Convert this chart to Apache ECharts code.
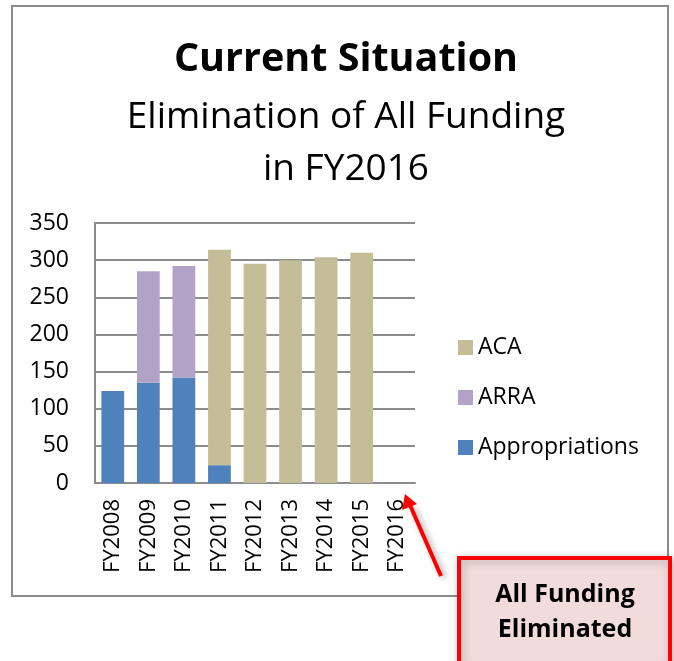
<!DOCTYPE html>
<html>
<head>
<meta charset="utf-8">
<script src="https://cdn.jsdelivr.net/npm/echarts@6/dist/echarts.min.js"></script>
<style>
  html, body { margin: 0; padding: 0; background: #fff; }
  #chart { width: 674px; height: 661px; }
</style>
</head>
<body>
<div id="chart"></div>
<script>
// funding by fiscal year (millions)
const years = ['FY2008', 'FY2009', 'FY2010', 'FY2011', 'FY2012', 'FY2013', 'FY2014', 'FY2015', 'FY2016']
const appropriations = [124, 135, 142, 24, 0, 0, 0, 0, 0]
const arra = [0, 150, 150, 0, 0, 0, 0, 0, 0]
const aca = [0, 0, 0, 290, 295, 300, 304, 310, 0]
const yTicks = { min: 0, max: 350, interval: 50 }

const font = '"Open Sans", "Liberation Sans", sans-serif'
const chart = echarts.init(document.getElementById('chart'))

const option = {
  backgroundColor: '#fff',
  animation: false,
  textStyle: { fontFamily: font },
  title: [
    {
      text: 'Current Situation',
      left: 341,
      textAlign: 'center',
      top: 35,
      textStyle: { fontFamily: font, fontSize: 39.5, fontWeight: 'bold', color: '#000' }
    },
    {
      text: 'Elimination of All Funding\nin FY2016',
      left: 341,
      textAlign: 'center',
      top: 86,
      textStyle: { fontFamily: font, fontSize: 37, fontWeight: 'normal', color: '#000', lineHeight: 52 }
    }
  ],
  legend: {
    orient: 'vertical',
    left: 458,
    top: 336,
    padding: 0,
    itemWidth: 15,
    itemHeight: 15,
    itemGap: 27,
    icon: 'rect',
    data: ['ACA', 'ARRA', 'Appropriations'],
    textStyle: { fontFamily: font, fontSize: 23, color: '#000' }
  },
  grid: { left: 95, right: 259, top: 223, bottom: 178 },
  xAxis: {
    type: 'category',
    data: years,
    axisLine: { lineStyle: { color: '#8c8c8c', width: 2 } },
    axisTick: { show: false },
    axisLabel: {
      rotate: 90,
      margin: 16,
      fontFamily: font,
      fontSize: 22,
      color: '#000'
    }
  },
  yAxis: {
    type: 'value',
    min: yTicks.min,
    max: yTicks.max,
    interval: yTicks.interval,
    axisLine: { show: true, lineStyle: { color: '#8c8c8c', width: 2 } },
    axisTick: { show: false },
    splitLine: { lineStyle: { color: '#8c8c8c', width: 2 } },
    axisLabel: { margin: 26, fontFamily: font, fontSize: 23, color: '#000' }
  },
  series: [
    {
      name: 'Appropriations',
      type: 'bar',
      stack: 'funding',
      data: appropriations,
      barCategoryGap: '36%',
      itemStyle: { color: '#4f81bd' }
    },
    {
      name: 'ARRA',
      type: 'bar',
      stack: 'funding',
      data: arra,
      itemStyle: { color: '#b2a2c7' }
    },
    {
      name: 'ACA',
      type: 'bar',
      stack: 'funding',
      data: aca,
      itemStyle: { color: '#c4bd97' }
    }
  ],
  graphic: [
    {
      type: 'rect',
      z: -1,
      shape: { x: 12, y: 6, width: 656, height: 590 },
      style: { fill: 'none', stroke: '#8c8c8c', lineWidth: 2 },
      silent: true
    },
    {
      type: 'group',
      z: 100,
      children: [
        {
          type: 'line',
          shape: { x1: 441, y1: 576, x2: 410, y2: 505 },
          style: {
            stroke: '#ff0000',
            lineWidth: 4,
            shadowBlur: 6,
            shadowColor: 'rgba(0,0,0,0.35)',
            shadowOffsetX: 3,
            shadowOffsetY: 2
          }
        },
        {
          type: 'polygon',
          shape: { points: [[405, 494], [402, 510], [417, 504]] },
          style: { fill: '#ff0000' }
        },
        {
          type: 'rect',
          shape: { x: 459, y: 558, width: 211, height: 110 },
          style: {
            fill: '#f2dcdb',
            stroke: '#ff0000',
            lineWidth: 4,
            shadowBlur: 8,
            shadowColor: 'rgba(0,0,0,0.25)',
            shadowOffsetX: 2,
            shadowOffsetY: 2
          }
        },
        {
          type: 'text',
          x: 565,
          y: 612,
          style: {
            text: 'All Funding\nEliminated',
            fontFamily: font,
            fontSize: 25,
            fontWeight: 'bold',
            fill: '#000',
            align: 'center',
            verticalAlign: 'middle',
            lineHeight: 35
          }
        }
      ]
    }
  ]
}

chart.setOption(option)
</script>
</body>
</html>
